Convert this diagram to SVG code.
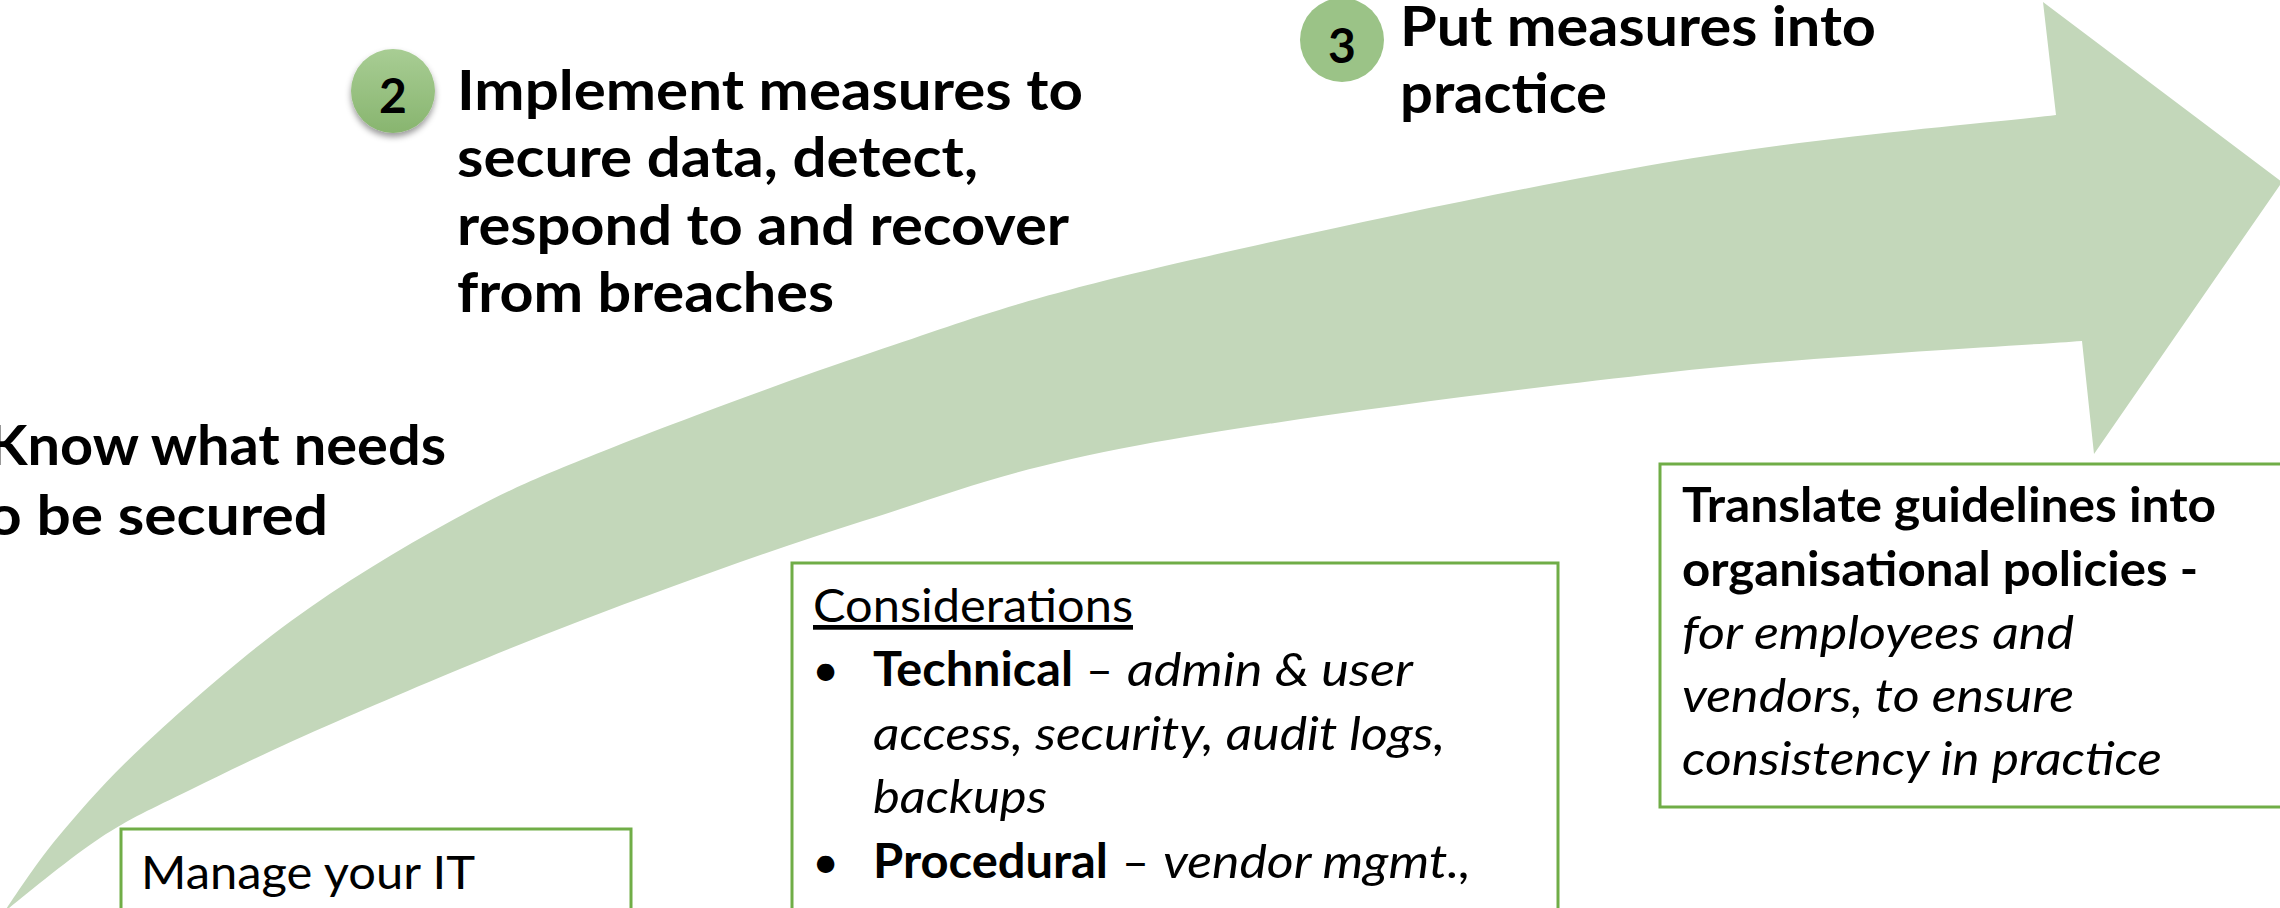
<svg xmlns="http://www.w3.org/2000/svg" width="2280" height="908" viewBox="0 0 2280 908">
  <defs>
    <style>
      .head { font-family: Lato, "Liberation Sans", Arial, sans-serif; font-weight: 700; font-size: 56px; fill: #000; }
      .body { font-family: Lato, "Liberation Sans", Arial, sans-serif; font-size: 47px; fill: #000; }
      .b { font-weight: 700; }
      .i { font-style: italic; }
      .num { font-family: Lato, "Liberation Sans", Arial, sans-serif; font-weight: 700; font-size: 48px; fill: #000; text-anchor: middle; }
      .box { fill: #fff; stroke: #70ad47; stroke-width: 3; }
    </style>
    <linearGradient id="badgeGrad" x1="0" y1="0" x2="0" y2="1">
      <stop offset="0" stop-color="#a8cd94"/>
      <stop offset="1" stop-color="#88b56f"/>
    </linearGradient>
    <filter id="badgeShadow" x="-30%" y="-30%" width="160%" height="170%">
      <feDropShadow dx="0" dy="4" stdDeviation="3" flood-color="#000" flood-opacity="0.4"/>
    </filter>
  </defs>

  <!-- sweeping progress arrow -->
  <g id="connectors">
    <path id="progress-arrow" fill="#c3d7ba"
      d="M4,912 C13,899.5 34.5,865 58,837 C81.5,809 106.2,780 145,744 C183.8,708 240,658.2 291,621 C342,583.8 400.2,548.8 451,521 C501.8,493.2 525.7,482.2 596,454 C666.3,425.8 782.3,382.3 873,352 C963.7,321.7 1008.3,303.5 1140,272 C1271.7,240.5 1510.3,189.2 1663,163 C1815.7,136.8 1990.5,123 2056,115 L2043,2 L2282,182 L2094,454 L2082,341 C2012.2,346.3 1820,355.7 1663,373 C1506,390.3 1273.3,420.3 1140,445 C1006.7,469.7 956.3,491.7 863,521 C769.7,550.3 667.5,587.7 580,621 C492.5,654.3 403,692.8 338,721 C273,749.2 229.7,770.5 190,790 C150.3,809.5 131,817.7 100,838 C69,858.3 20,899.7 4,912 Z"/>
  </g>

  <!-- step 1 -->
  <g id="step1">
    <text class="head" x="-12" y="465" textLength="458" lengthAdjust="spacingAndGlyphs">Know what needs</text>
    <text class="head" x="-13" y="535" textLength="341" lengthAdjust="spacingAndGlyphs">o be secured</text>
  </g>

  <!-- step 2 -->
  <g id="step2">
    <circle cx="393" cy="91" r="42" fill="url(#badgeGrad)" filter="url(#badgeShadow)"/>
    <text class="num" x="393" y="113">2</text>
    <text class="head" x="457" y="110" textLength="626" lengthAdjust="spacingAndGlyphs">Implement measures to</text>
    <text class="head" x="457" y="177" textLength="521" lengthAdjust="spacingAndGlyphs">secure data, detect,</text>
    <text class="head" x="457" y="245" textLength="612" lengthAdjust="spacingAndGlyphs">respond to and recover</text>
    <text class="head" x="457" y="312" textLength="377" lengthAdjust="spacingAndGlyphs">from breaches</text>
  </g>

  <!-- step 3 -->
  <g id="step3">
    <circle cx="1342" cy="40" r="42" fill="#9bc387"/>
    <text class="num" x="1342" y="63">3</text>
    <text class="head" x="1400" y="46" textLength="476" lengthAdjust="spacingAndGlyphs">Put measures into</text>
    <text class="head" x="1400" y="113" textLength="207" lengthAdjust="spacingAndGlyphs">practice</text>
  </g>

  <!-- note: manage IT -->
  <g id="box-manage">
    <rect class="box" x="121" y="829" width="510" height="120"/>
    <text class="body" x="141" y="889" textLength="334" lengthAdjust="spacingAndGlyphs">Manage your IT</text>
  </g>

  <!-- note: considerations -->
  <g id="box-considerations">
    <rect class="box" x="792" y="563" width="766" height="400"/>
    <text class="body" x="813" y="622" textLength="320" lengthAdjust="spacingAndGlyphs" text-decoration="underline">Considerations</text>
    <text class="body" x="812" y="686">•</text>
    <text class="body b" x="873" y="686" textLength="200" lengthAdjust="spacingAndGlyphs">Technical</text>
    <text class="body" x="1086" y="686" textLength="27" lengthAdjust="spacingAndGlyphs">–</text>
    <text class="body i" x="1127" y="686" textLength="286" lengthAdjust="spacingAndGlyphs">admin &amp; user</text>
    <text class="body i" x="873" y="750" textLength="572" lengthAdjust="spacingAndGlyphs">access, security, audit logs,</text>
    <text class="body i" x="873" y="813" textLength="174" lengthAdjust="spacingAndGlyphs">backups</text>
    <text class="body" x="812" y="878">•</text>
    <text class="body b" x="873" y="878" textLength="235" lengthAdjust="spacingAndGlyphs">Procedural</text>
    <text class="body" x="1122" y="878" textLength="27" lengthAdjust="spacingAndGlyphs">–</text>
    <text class="body i" x="1163" y="878" textLength="308" lengthAdjust="spacingAndGlyphs">vendor mgmt.,</text>
  </g>

  <!-- note: policies -->
  <g id="box-translate">
    <rect class="box" x="1660" y="464" width="700" height="343"/>
    <text class="body b" x="1682" y="522" textLength="534" lengthAdjust="spacingAndGlyphs">Translate guidelines into</text>
    <text class="body b" x="1682" y="586" textLength="516" lengthAdjust="spacingAndGlyphs">organisational policies -</text>
    <text class="body i" x="1682" y="649" textLength="392" lengthAdjust="spacingAndGlyphs">for employees and</text>
    <text class="body i" x="1682" y="712" textLength="392" lengthAdjust="spacingAndGlyphs">vendors, to ensure</text>
    <text class="body i" x="1682" y="775" textLength="480" lengthAdjust="spacingAndGlyphs">consistency in practice</text>
  </g>
</svg>
